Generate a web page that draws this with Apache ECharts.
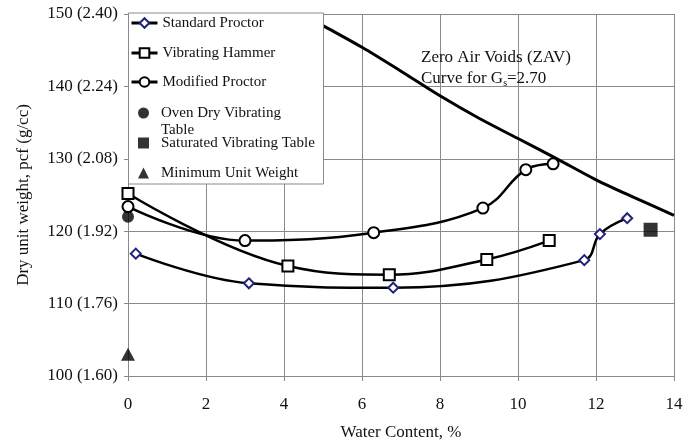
<!DOCTYPE html>
<html>
<head>
<meta charset="utf-8">
<script src="https://cdn.jsdelivr.net/npm/echarts@6/dist/echarts.min.js"></script>
<style>
  html, body { margin: 0; padding: 0; background: #fff; }
  #chart { width: 683px; height: 442px; }
</style>
</head>
<body>
<div id="chart"></div>
<script>
// Compaction test results: water content (%) vs dry unit weight (pcf)
var standardW = [0.2, 3.1, 6.8, 11.7, 12.1, 12.8];
var standardG = [116.9, 112.8, 112.2, 116.0, 119.6, 121.8];

var hammerW = [0.0, 4.1, 6.7, 9.2, 10.8];
var hammerG = [125.2, 115.2, 114.0, 116.1, 118.7];

var modifiedW = [0.0, 3.0, 6.3, 9.1, 10.2, 10.9];
var modifiedG = [123.4, 118.7, 119.8, 123.2, 128.5, 129.3];

var ovenDry = [0.0, 122.0];
var saturated = [13.4, 120.2];
var minimumWeight = [0.0, 103.0];

// Zero air voids curve, Gs = 2.70
var zavW = [4.5, 5, 6, 7, 8, 9, 10, 11, 12, 13, 14];
var zavG = [149.9, 148.4, 145.4, 142.1, 138.7, 135.6, 132.8, 130.0, 127.1, 124.6, 122.2];

var yTicks = [100, 110, 120, 130, 140, 150];
var yTickLabels = ['100 (1.60)', '110 (1.76)', '120 (1.92)', '130 (2.08)', '140 (2.24)', '150 (2.40)'];

var seriesNames = ['Standard Proctor', 'Vibrating Hammer', 'Modified Proctor',
  'Oven Dry Vibrating Table', 'Saturated Vibrating Table', 'Minimum Unit Weight'];

function pairs(xs, ys) {
  return xs.map(function (x, i) { return [x, ys[i]]; });
}

var FONT = 'Liberation Serif';
var GRID_COLOR = '#8a8a8a';
var TEXT_COLOR = '#111';

// legend entry for a line series (line + marker icon)
function lineLegend(name, top) {
  return {
    data: [name],
    left: 130, top: top, padding: 0,
    itemWidth: 26, itemHeight: 12,
    selectedMode: false, z: 5,
    lineStyle: { width: 3, color: '#000' },
    textStyle: { fontFamily: FONT, fontSize: 15, color: TEXT_COLOR, lineHeight: 17 }
  };
}

// legend entry for a single filled marker
function markerLegend(name, top, label) {
  return {
    data: [name],
    left: 138, top: top, padding: 0,
    itemWidth: 11, itemHeight: 11,
    selectedMode: false, z: 5,
    formatter: function () { return label || name; },
    textStyle: { fontFamily: FONT, fontSize: 15, color: TEXT_COLOR, lineHeight: 17, padding: [0, 0, 0, 7] }
  };
}

var chart = echarts.init(document.getElementById('chart'));

chart.setOption({
  backgroundColor: '#fff',
  animation: false,
  grid: { left: 128, right: 9, top: 14, bottom: 66, containLabel: false, outerBoundsMode: 'none' },
  xAxis: {
    type: 'value', min: 0, max: 14, interval: 2,
    name: 'Water Content, %', nameLocation: 'middle', nameGap: 48,
    nameTextStyle: { fontFamily: FONT, fontSize: 17, color: TEXT_COLOR },
    axisLine: { lineStyle: { color: GRID_COLOR, width: 1 } },
    axisTick: { show: true, length: 5, lineStyle: { color: GRID_COLOR } },
    axisLabel: { fontFamily: FONT, fontSize: 17, color: TEXT_COLOR, margin: 20 },
    splitLine: { show: true, lineStyle: { color: GRID_COLOR, width: 1 } }
  },
  yAxis: {
    type: 'value', min: 100, max: 150, interval: 10,
    name: 'Dry unit weight, pcf (g/cc)', nameLocation: 'middle', nameGap: 96, nameRotate: 90,
    nameTextStyle: { fontFamily: FONT, fontSize: 17, color: TEXT_COLOR },
    axisLine: { show: true, lineStyle: { color: GRID_COLOR, width: 1 } },
    axisTick: { show: true, length: 4, lineStyle: { color: GRID_COLOR } },
    axisLabel: {
      fontFamily: FONT, fontSize: 17, color: TEXT_COLOR, margin: 10,
      formatter: function (v) { return yTickLabels[yTicks.indexOf(v)]; }
    },
    splitLine: { show: true, lineStyle: { color: GRID_COLOR, width: 1 } }
  },
  legend: [
    lineLegend(seriesNames[0], 14.5),
    lineLegend(seriesNames[1], 44.5),
    lineLegend(seriesNames[2], 73.5),
    markerLegend(seriesNames[3], 87.5, '\nOven Dry Vibrating\nTable'),
    markerLegend(seriesNames[4], 134.5),
    markerLegend(seriesNames[5], 164.5)
  ],
  graphic: [
    {
      type: 'rect', left: 128, top: 12.5, z: 3,
      shape: { width: 195, height: 171 },
      style: { fill: '#fff', stroke: GRID_COLOR, lineWidth: 1 }
    },
    {
      type: 'text', left: 421, top: 49, z: 3,
      style: {
        text: '{t|Zero Air Voids (ZAV)}\n{t|Curve for G}{s|s}{t|=2.70}',
        rich: {
          t: { fontFamily: FONT, fontSize: 17, fill: TEXT_COLOR, lineHeight: 21 },
          s: { fontFamily: FONT, fontSize: 10, fill: TEXT_COLOR, lineHeight: 21, padding: [9, 0, 0, 0] }
        }
      }
    }
  ],
  series: [
    {
      name: 'ZAV', type: 'line', smooth: 0.3, showSymbol: false, symbol: 'none',
      data: pairs(zavW, zavG), z: 1,
      lineStyle: { color: '#000', width: 3 }
    },
    {
      name: seriesNames[0], type: 'line', smooth: 0.4,
      data: pairs(standardW, standardG),
      symbol: 'emptyDiamond', symbolSize: 10,
      lineStyle: { color: '#000', width: 2.5 },
      itemStyle: { color: '#22227a', borderWidth: 1.5 }
    },
    {
      name: seriesNames[1], type: 'line', smooth: 0.4,
      data: pairs(hammerW, hammerG),
      symbol: 'emptyRect', symbolSize: 11,
      lineStyle: { color: '#000', width: 2.5 },
      itemStyle: { color: '#000', borderWidth: 1.5 }
    },
    {
      name: seriesNames[2], type: 'line', smooth: 0.4,
      data: pairs(modifiedW, modifiedG),
      symbol: 'emptyCircle', symbolSize: 11,
      lineStyle: { color: '#000', width: 2.5 },
      itemStyle: { color: '#000', borderWidth: 1.5 }
    },
    {
      name: seriesNames[3], type: 'scatter', symbol: 'circle', symbolSize: 12,
      data: [ovenDry], itemStyle: { color: '#000' }
    },
    {
      name: seriesNames[4], type: 'scatter', symbol: 'rect', symbolSize: 14,
      data: [saturated], itemStyle: { color: '#000' }
    },
    {
      name: seriesNames[5], type: 'scatter', symbol: 'triangle', symbolSize: [14, 13],
      data: [minimumWeight], itemStyle: { color: '#000' }
    }
  ]
});
</script>
</body>
</html>
